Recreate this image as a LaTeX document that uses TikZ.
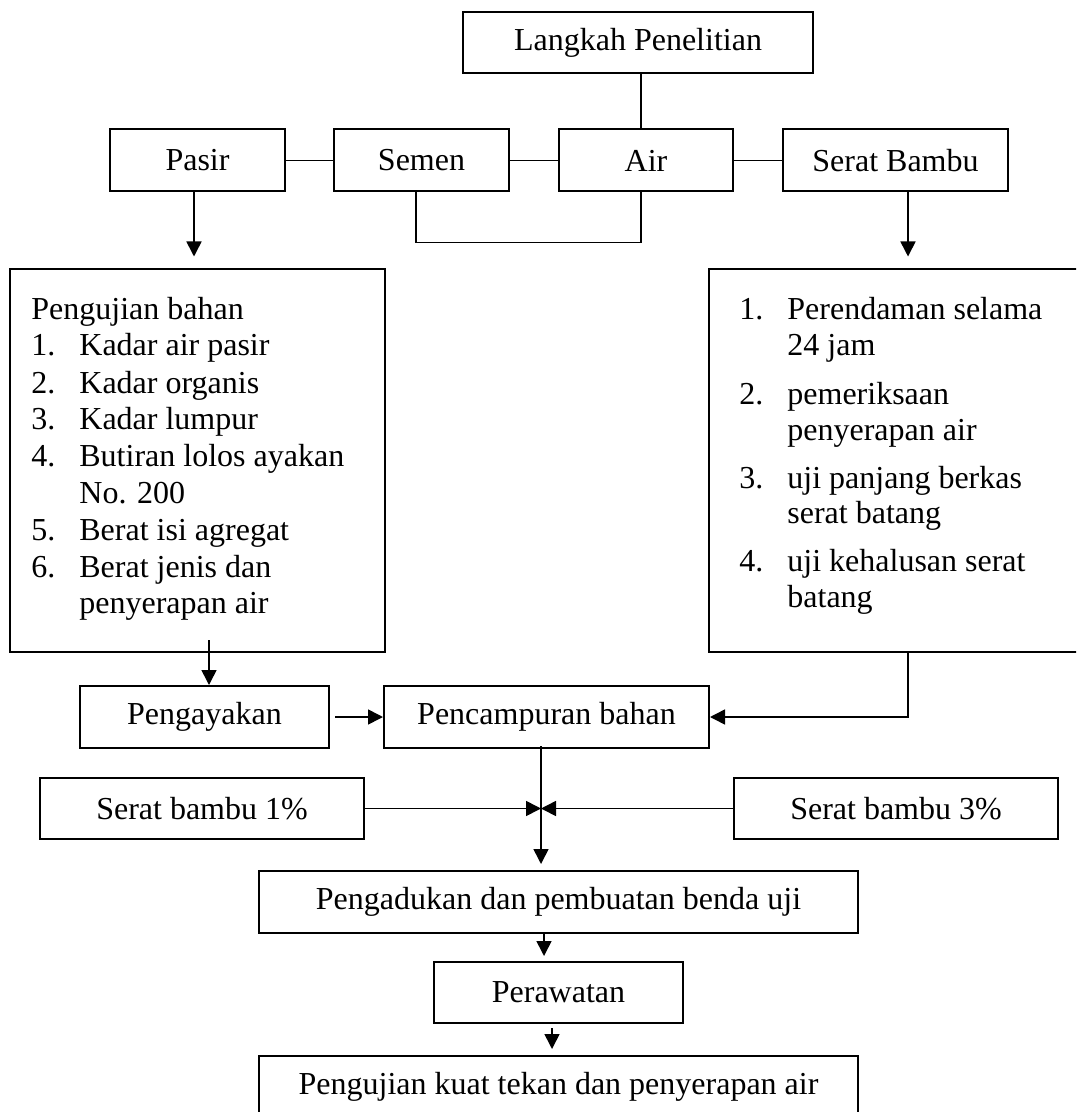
\documentclass[tikz,border=0pt]{standalone}
\usepackage{fontspec}
\setmainfont{Liberation Serif}
\usetikzlibrary{arrows.meta}
\begin{document}
\begin{tikzpicture}[x=0.5pt,y=-0.5pt,
  font=\fontsize{16pt}{18.35pt}\selectfont,
  box/.style={draw,line width=1pt,inner sep=0pt,minimum height=31pt},
  arr/.style={line width=0.8pt,-{Triangle[length=7.5pt,width=7.5pt]}},
  ln/.style={line width=0.8pt},
  txt/.style={anchor=base west,inner sep=0pt}]
\useasboundingbox (0,0) rectangle (1076,1112);
\clip (0,0) rectangle (1076,1112);
% boxes
\node[box,minimum width=175pt,minimum height=30.5pt] (lp) at (638,42.5) {Langkah Penelitian};
\node[box,minimum width=87.5pt] (pasir) at (197.5,160.5) {Pasir};
\node[box,minimum width=87.5pt] (semen) at (421.5,160.5) {Semen};
\node[box,minimum width=87pt] (air) at (646,160.5) {Air};
\node[box,minimum width=112.5pt] (serat) at (895.5,160.5) {Serat Bambu};
\node[box,minimum width=187.5pt,minimum height=191.5pt] (uji) at (197.5,460.5) {};
\node[box,minimum width=185.5pt,minimum height=191.5pt] (rend) at (894.5,460.5) {};
\node[box,minimum width=124.5pt] (ayak) at (204.5,717) {Pengayakan};
\node[box,minimum width=162.5pt] (campur) at (546.5,717) {Pencampuran bahan};
\node[box,minimum width=162pt,minimum height=30.5pt] (s1) at (202,808.5) {Serat bambu 1\%};
\node[box,minimum width=162pt,minimum height=30.5pt] (s3) at (896,808.5) {Serat bambu 3\%};
\node[box,minimum width=299.5pt] (aduk) at (558.5,902) {Pengadukan dan pembuatan benda uji};
\node[box,minimum width=124.5pt,minimum height=30.5pt] (rawat) at (558.5,992.5) {Perawatan};
\node[box,minimum width=299.5pt] (kuat) at (558.5,1087) {Pengujian kuat tekan dan penyerapan air};
% left list
\node[txt] (a0) at (31,320) {Pengujian bahan};
\node[txt] (a1n) at (31,356) {1.};  \node[txt] (a1) at (79,356) {Kadar air pasir};
\node[txt] (a2n) at (31,393) {2.};  \node[txt] (a2) at (79,393) {Kadar organis};
\node[txt] (a3n) at (31,429) {3.};  \node[txt] (a3) at (79,429) {Kadar lumpur};
\node[txt] (a4n) at (31,466) {4.};  \node[txt] (a4) at (79,466) {Butiran lolos ayakan};
\node[txt] (a4b) at (79,503) {No. 200};
\node[txt] (a5n) at (31,540) {5.};  \node[txt] (a5) at (79,540) {Berat isi agregat};
\node[txt] (a6n) at (31,577) {6.};  \node[txt] (a6) at (79,577) {Berat jenis dan};
\node[txt] (a6b) at (79,613) {penyerapan air};
% right list
\node[txt] (b1n) at (739,320) {1.}; \node[txt] (b1) at (787,320) {Perendaman selama};
\node[txt] (b1b) at (787,356) {24 jam};
\node[txt] (b2n) at (739,404) {2.}; \node[txt] (b2) at (787,404) {pemeriksaan};
\node[txt] (b2b) at (787,440) {penyerapan air};
\node[txt] (b3n) at (739,488) {3.}; \node[txt] (b3) at (787,488) {uji panjang berkas};
\node[txt] (b3b) at (787,523) {serat batang};
\node[txt] (b4n) at (739,571) {4.}; \node[txt] (b4) at (787,571) {uji kehalusan serat};
\node[txt] (b4b) at (787,607) {batang};
% connectors top
\draw[ln] ([xshift=-2.5pt]air.north) -- ([xshift=-2.5pt]air.north |- lp.south);
\draw[ln] (pasir.east) -- (semen.west);
\draw[ln] (semen.east) -- (air.west);
\draw[ln] (air.east) -- (serat.west);
\draw[ln] ([xshift=-2.75pt]semen.south) -- ++(0,50) -| ([xshift=-2.5pt]air.south);
\draw[arr] ([xshift=-1.75pt]pasir.south) -- ++(0,64);
\draw[arr] ([xshift=6.25pt]serat.south) -- ++(0,64);
% middle
\draw[arr] ([yshift=6.5pt,xshift=2.25pt]uji.south -| ayak.north) -- ([xshift=2.25pt]ayak.north);
\draw[arr] ([xshift=2.5pt]ayak.east) -- (campur.west);
\draw[arr] ([xshift=6.75pt]rend.south) |- (campur.east);
\coordinate (j) at (541,808.5);
\draw[arr] ([yshift=1.5pt]j |- campur.south) -- ([yshift=3pt]j |- aduk.north);
\draw[arr] (s1.east) -- (j);
\draw[arr] (s3.west) -- (j);
\draw[arr] ([xshift=-7.25pt]aduk.south) -- ([xshift=-7.25pt,yshift=2.5pt]rawat.north);
\draw[arr] ([xshift=-3.25pt,yshift=-2pt]rawat.south) -- ([xshift=-3.25pt,yshift=3pt]kuat.north);
\end{tikzpicture}
\end{document}
